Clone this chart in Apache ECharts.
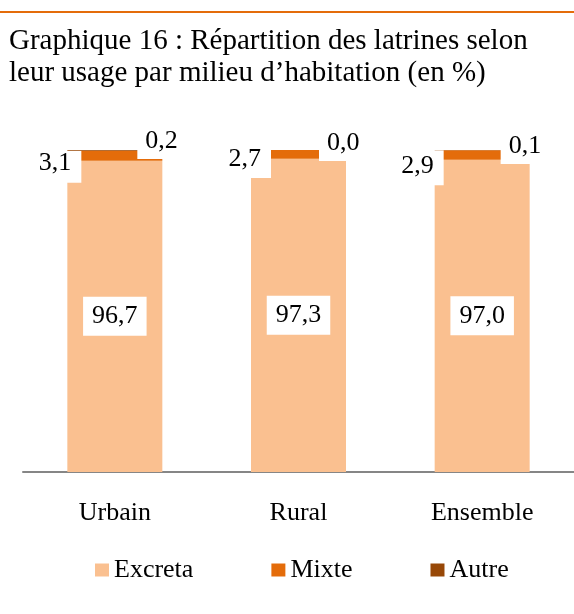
<!DOCTYPE html>
<html>
<head>
<meta charset="utf-8">
<script src="https://cdn.jsdelivr.net/npm/echarts@6/dist/echarts.min.js"></script>
<style>
  html, body { margin: 0; padding: 0; background: #fff; }
  #chart { width: 574px; height: 614px; }
</style>
</head>
<body>
<div id="chart"></div>
<script>
const categories = ['Urbain', 'Rural', 'Ensemble'];
const excreta = [96.7, 97.3, 97.0];
const mixte = [3.1, 2.7, 2.9];
const autre = [0.2, 0.0, 0.1];

// where the white label boxes sit, relative to their bar segment (px)
const mixteLabelPos = [[14, 32], [20, 28], [9, 35]];
const autreLabelPos = [[70, 9], [68, 11], [66, 14]];

const FONT = "'Liberation Serif', 'Times New Roman', serif";
const fmt = p => p.value.toFixed(1).replace('.', ',');

const chart = echarts.init(document.getElementById('chart'));

chart.setOption({
    animation: false,
    textStyle: {fontFamily: FONT},
    title: {
        text: 'Graphique 16 : Répartition des latrines selon\nleur usage par milieu d\u2019habitation (en %)',
        left: 9,
        top: 25,
        padding: 0,
        textStyle: {fontFamily: FONT, fontSize: 29, lineHeight: 32, fontWeight: 'normal', color: '#000'}
    },
    graphic: [{
        type: 'rect',
        shape: {x: 0, y: 11, width: 574, height: 2},
        style: {fill: '#E46C0A'}
    }],
    legend: {
        data: ['Excreta', 'Mixte', 'Autre'],
        left: 95,
        top: 557,
        padding: 0,
        icon: 'rect',
        itemWidth: 14,
        itemHeight: 13,
        itemGap: 78,
        textStyle: {fontFamily: FONT, fontSize: 26, color: '#000'}
    },
    grid: {left: 23, right: 0, top: 150, bottom: 142},
    xAxis: {
        type: 'category',
        data: categories,
        axisLine: {lineStyle: {color: '#868686', width: 2}},
        axisTick: {show: false},
        axisLabel: {fontFamily: FONT, fontSize: 26, color: '#000', margin: 28}
    },
    yAxis: {type: 'value', min: 0, max: 100, show: false},
    series: [
        {
            name: 'Excreta',
            type: 'bar',
            stack: 'total',
            barWidth: 95,
            z: 2,
            itemStyle: {color: '#FAC090'},
            label: {
                show: true,
                position: 'inside',
                formatter: fmt,
                fontFamily: FONT,
                fontSize: 26,
                color: '#000',
                backgroundColor: '#fff',
                padding: [6, 9, 7, 9]
            },
            data: excreta
        },
        {
            name: 'Mixte',
            type: 'bar',
            stack: 'total',
            z: 3,
            itemStyle: {color: '#E46C0A'},
            label: {
                show: true,
                formatter: fmt,
                fontFamily: FONT,
                fontSize: 26,
                color: '#000',
                backgroundColor: '#fff',
                align: 'right',
                verticalAlign: 'bottom',
                padding: [6, 10, 6, 8]
            },
            data: mixte.map((v, i) => ({value: v, label: {position: mixteLabelPos[i]}}))
        },
        {
            name: 'Autre',
            type: 'bar',
            stack: 'total',
            z: 4,
            itemStyle: {color: '#984807'},
            label: {
                show: true,
                formatter: fmt,
                fontFamily: FONT,
                fontSize: 26,
                color: '#000',
                backgroundColor: '#fff',
                align: 'left',
                verticalAlign: 'bottom',
                padding: [5, 8, 5, 8]
            },
            data: autre.map((v, i) => ({value: v, label: {position: autreLabelPos[i]}}))
        }
    ]
});
</script>
</body>
</html>
